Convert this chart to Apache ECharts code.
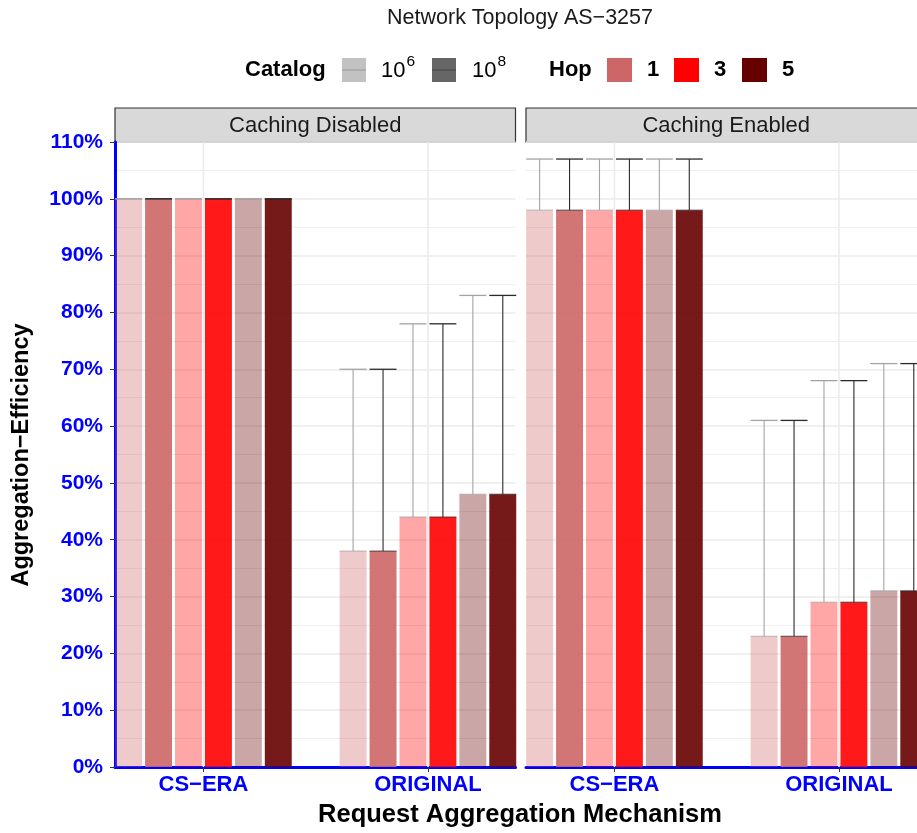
<!DOCTYPE html>
<html>
<head>
<meta charset="utf-8">
<script src="https://cdn.jsdelivr.net/npm/echarts@6/dist/echarts.min.js"></script>
<style>html,body{margin:0;padding:0;background:#fff;overflow:hidden}#chart{width:935px;height:833px}</style>
</head>
<body>
<div id="chart"></div>
<script>
// ---- data ----
const chartTitle = 'Network Topology AS−3257';
const panels = ['Caching Disabled', 'Caching Enabled'];
const mechanisms = ['CS−ERA', 'ORIGINAL'];
const hops = ['1', '3', '5'];
const catalogs = ['6', '8']; // exponents of 10
// slot order: hop1-10^6, hop1-10^8, hop3-10^6, hop3-10^8, hop5-10^6, hop5-10^8
const disabledCSERA = [100, 100, 100, 100, 100, 100];
const disabledCSERAUpper = [100, 100, 100, 100, 100, 100];
const disabledOriginal = [38, 38, 44, 44, 48, 48];
const disabledOriginalUpper = [70, 70, 78, 78, 83, 83];
const enabledCSERA = [98, 98, 98, 98, 98, 98];
const enabledCSERAUpper = [107, 107, 107, 107, 107, 107];
const enabledOriginal = [23, 23, 29, 29, 31, 31];
const enabledOriginalUpper = [61, 61, 68, 68, 71, 71];

// ---- style ----
const FONT = '"Liberation Sans", Arial, Helvetica, sans-serif';
const hopColors = ['#CD6666', '#FF0000', '#660000'];
const catalogAlpha = [0.35, 0.9];
const ebColors = ['#A3A3A3', '#2A2A2A'];
const DODGE = 0.8;
const BLUE = '#0000FF';
const XMIN = 0.606, XMAX = 2.39;

function rgba(hex, a) {
  const r = parseInt(hex.slice(1, 3), 16), g = parseInt(hex.slice(3, 5), 16), b = parseInt(hex.slice(5, 7), 16);
  return `rgba(${r},${g},${b},${a})`;
}

function buildData(means, uppers) {
  const out = [];
  means.forEach((arr, m) => arr.forEach((v, s) => out.push([m + 1, s, v, uppers[m][s]])));
  return out;
}
const panelData = [
  buildData([disabledCSERA, disabledOriginal], [disabledCSERAUpper, disabledOriginalUpper]),
  buildData([enabledCSERA, enabledOriginal], [enabledCSERAUpper, enabledOriginalUpper])
];

function renderBars(params, api) {
  const mech = api.value(0), slot = api.value(1), mean = api.value(2), upper = api.value(3);
  const unit = api.size([1, 0])[0];
  const slotW = unit * DODGE / 6;
  const cx = api.coord([mech + (slot - 2.5) * DODGE / 6, 0])[0];
  const y0 = api.coord([mech, 0])[1];
  const ym = api.coord([mech, mean])[1];
  const yu = api.coord([mech, upper])[1];
  const bw = slotW - 3;
  const cat = slot % 2, hop = Math.floor(slot / 2);
  const eb = ebColors[cat];
  return {
    type: 'group',
    children: [
      { type: 'rect', shape: { x: cx - bw / 2, y: ym, width: bw, height: y0 - ym }, style: { fill: rgba(hopColors[hop], catalogAlpha[cat]) } },
      { type: 'line', shape: { x1: cx, y1: ym, x2: cx, y2: yu }, style: { stroke: eb, lineWidth: 1.1 } },
      { type: 'line', shape: { x1: cx - bw / 2, y1: yu, x2: cx + bw / 2, y2: yu }, style: { stroke: eb, lineWidth: 1.3 } },
      { type: 'line', shape: { x1: cx - bw / 2, y1: ym, x2: cx + bw / 2, y2: ym }, style: { stroke: eb, lineWidth: 1.3, opacity: 0.6 } }
    ]
  };
}

function renderVGrid(params, api) {
  const x = api.coord([api.value(0), 0])[0];
  const yb = api.coord([api.value(0), 0])[1];
  const yt = api.coord([api.value(0), 110])[1];
  return { type: 'line', shape: { x1: x, y1: yt, x2: x, y2: yb }, style: { stroke: '#EBEBEB', lineWidth: 1.6 } };
}

const PANEL_LEFT = [115, 526], PANEL_W = 400.5, PANEL_TOP = 142, PANEL_H = 625;

const grids = [], xAxes = [], yAxes = [], series = [];
panels.forEach((p, i) => {
  grids.push({ left: PANEL_LEFT[i], top: PANEL_TOP, width: PANEL_W, height: PANEL_H, containLabel: false });
  xAxes.push({
    type: 'value', gridIndex: i, min: XMIN, max: XMAX,
    axisLine: { show: true, onZero: false, lineStyle: { color: BLUE, width: 3 } },
    axisTick: { show: true, customValues: [1, 2], length: 5, lineStyle: { color: '#333', width: 1 } },
    axisLabel: { show: true, customValues: [1, 2], formatter: v => mechanisms[Math.round(v) - 1] || '', color: BLUE, fontWeight: 'bold', fontSize: 22, fontFamily: FONT, margin: 7 },
    splitLine: { show: false }
  });
  yAxes.push({
    type: 'value', gridIndex: i, min: 0, max: 110, interval: 10,
    axisLine: { show: i === 0, lineStyle: { color: BLUE, width: 3 } },
    axisTick: { show: i === 0, length: 5, lineStyle: { color: '#333', width: 1 } },
    axisLabel: { show: i === 0, formatter: '{value}%', color: BLUE, fontWeight: 'bold', fontSize: 21, fontFamily: FONT, margin: 12 },
    splitLine: { show: true, lineStyle: { color: '#EBEBEB', width: 1.6 } },
    minorTick: { show: false, splitNumber: 2 },
    minorSplitLine: { show: true, lineStyle: { color: '#EFEFEF', width: 1 } }
  });
  series.push({
    type: 'custom', xAxisIndex: i, yAxisIndex: i, renderItem: renderVGrid, data: [[1], [2]], z: 1, silent: true
  });
  series.push({
    type: 'custom', xAxisIndex: i, yAxisIndex: i, renderItem: renderBars, data: panelData[i], z: 2, silent: true,
    encode: { x: 0, y: [2, 3] }
  });
});

const graphics = [];
// title
graphics.push({ type: 'text', x: 520, y: 18, style: { text: chartTitle, fontSize: 21.5, fontFamily: FONT, fill: '#1A1A1A', textAlign: 'center', textVerticalAlign: 'middle' } });
// strips
panels.forEach((p, i) => {
  graphics.push({ type: 'rect', shape: { x: PANEL_LEFT[i], y: 108, width: PANEL_W, height: 34 }, style: { fill: '#D9D9D9', stroke: '#333', lineWidth: 1.2 } });
  graphics.push({ type: 'text', x: PANEL_LEFT[i] + PANEL_W / 2, y: 126, style: { text: p, fontSize: 22, fontFamily: FONT, fill: '#1A1A1A', textAlign: 'center', textVerticalAlign: 'middle' } });
});
// axis titles
graphics.push({ type: 'text', x: 22, y: 455, rotation: Math.PI / 2, style: { text: 'Aggregation−Efficiency', fontSize: 23.5, fontWeight: 'bold', fontFamily: FONT, fill: '#000', textAlign: 'center', textVerticalAlign: 'middle' } });
graphics.push({ type: 'text', x: 520, y: 815, style: { text: 'Request Aggregation Mechanism', fontSize: 25.5, fontWeight: 'bold', fontFamily: FONT, fill: '#000', textAlign: 'center', textVerticalAlign: 'middle' } });
// legend
const LY = 70;
graphics.push({ type: 'text', x: 245, y: LY, style: { text: 'Catalog', fontSize: 22, fontWeight: 'bold', fontFamily: FONT, fill: '#000', textVerticalAlign: 'middle' } });
const catSw = [{ x: 342, fill: '#C2C2C2', line: '#9A9A9A' }, { x: 432, fill: '#666666', line: '#444444' }];
const catLblX = [381, 472];
catalogs.forEach((c, i) => {
  graphics.push({ type: 'rect', shape: { x: catSw[i].x, y: 58, width: 24, height: 24 }, style: { fill: catSw[i].fill } });
  graphics.push({ type: 'line', shape: { x1: catSw[i].x, y1: 70, x2: catSw[i].x + 24, y2: 70 }, style: { stroke: catSw[i].line, lineWidth: 1 } });
  graphics.push({ type: 'text', x: catLblX[i], y: LY + 1, style: { text: '10', fontSize: 22, fontFamily: FONT, fill: '#000', textVerticalAlign: 'middle' } });
  graphics.push({ type: 'text', x: catLblX[i] + 25.5, y: LY - 8, style: { text: c, fontSize: 15.5, fontFamily: FONT, fill: '#000', textVerticalAlign: 'middle' } });
});
graphics.push({ type: 'text', x: 549, y: LY, style: { text: 'Hop', fontSize: 22, fontWeight: 'bold', fontFamily: FONT, fill: '#000', textVerticalAlign: 'middle' } });
const hopSwX = [607, 674, 742];
hops.forEach((h, i) => {
  graphics.push({ type: 'rect', shape: { x: hopSwX[i], y: 58, width: 25, height: 24 }, style: { fill: hopColors[i] } });
  graphics.push({ type: 'text', x: hopSwX[i] + 40, y: LY, style: { text: h, fontSize: 22, fontWeight: 'bold', fontFamily: FONT, fill: '#000', textVerticalAlign: 'middle' } });
});

const chart = echarts.init(document.getElementById('chart'), null, { renderer: 'canvas' });
chart.setOption({
  animation: false,
  backgroundColor: '#fff',
  grid: grids, xAxis: xAxes, yAxis: yAxes, series: series,
  graphic: graphics
});
</script>
</body>
</html>
